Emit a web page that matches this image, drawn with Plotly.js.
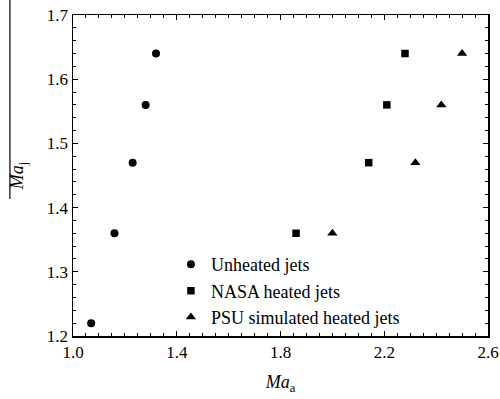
<!DOCTYPE html>
<html>
<head>
<meta charset="utf-8">
<script src="https://cdn.plot.ly/plotly-3.0.1.min.js"></script>
<style>html,body{margin:0;padding:0;background:#fff;}#chart{width:500px;height:399px;}</style>
</head>
<body>
<div id="chart"></div>
<script>
// Data
var seriesNames = ["Unheated jets", "NASA heated jets", "PSU simulated heated jets"];
var unheatedMaA = [1.07, 1.16, 1.23, 1.28, 1.32];
var nasaMaA = [1.86, 2.14, 2.21, 2.28];
var psuMaA = [2.00, 2.32, 2.42, 2.50];
var unheatedMaJ = [1.22, 1.36, 1.47, 1.56, 1.64];
var heatedMaJ = [1.36, 1.47, 1.56, 1.64];
var xTickVals = [1.0, 1.4, 1.8, 2.2, 2.6];
var xTickText = ["1.0", "1.4", "1.8", "2.2", "2.6"];
var yTickVals = [1.2, 1.3, 1.4, 1.5, 1.6, 1.7];
var yTickText = ["1.2", "1.3", "1.4", "1.5", "1.6", "1.7"];

var serif = "Liberation Serif";

var traces = [
  {x: unheatedMaA, y: unheatedMaJ, name: seriesNames[0], type: "scatter", mode: "markers",
   marker: {symbol: "circle", size: 8, color: "#000"}, cliponaxis: false},
  {x: nasaMaA, y: heatedMaJ, name: seriesNames[1], type: "scatter", mode: "markers",
   marker: {symbol: "square", size: 7.5, color: "#000"}, cliponaxis: false},
  {x: psuMaA, y: heatedMaJ, name: seriesNames[2], type: "scatter", mode: "markers",
   marker: {symbol: "triangle-up", size: 9, color: "#000"}, cliponaxis: false}
];

var layout = {
  width: 500, height: 399,
  margin: {l: 73, r: 12, t: 15, b: 63},
  paper_bgcolor: "#fff", plot_bgcolor: "#fff",
  font: {family: serif, size: 17, color: "#000"},
  showlegend: true,
  legend: {x: 0.236, y: 0.28, xanchor: "left", yanchor: "top",
           bgcolor: "rgba(0,0,0,0)", font: {family: serif, size: 18, color: "#000"},
           tracegroupgap: 0},
  xaxis: {
    range: [1.0, 2.6], showgrid: false, zeroline: false,
    showline: true, linecolor: "#000", linewidth: 1.5, mirror: "ticks",
    ticks: "inside", ticklen: 5, tickwidth: 1.2, tickcolor: "#000",
    tickmode: "array", tickvals: xTickVals, ticktext: xTickText,
    minor: {dtick: 0.05, tick0: 1.0, ticks: "inside", ticklen: 3, tickwidth: 1, tickcolor: "#000", showgrid: false},
    tickfont: {family: serif, size: 17},
    title: {text: "<i>Ma</i><sub>a</sub>", font: {family: serif, size: 18}, standoff: 14}
  },
  yaxis: {
    range: [1.2, 1.7], showgrid: false, zeroline: false,
    showline: true, linecolor: "#000", linewidth: 1.5, mirror: "ticks",
    ticks: "inside", ticklen: 5, tickwidth: 1.2, tickcolor: "#000",
    tickmode: "array", tickvals: yTickVals, ticktext: yTickText,
    minor: {dtick: 0.02, tick0: 1.2, ticks: "inside", ticklen: 3, tickwidth: 1, tickcolor: "#000", showgrid: false},
    tickfont: {family: serif, size: 17},
    title: {text: "<i>Ma</i><sub>j</sub>", font: {family: serif, size: 18}, standoff: 18}
  },
  shapes: [
    {type: "line", xref: "paper", yref: "paper", x0: -0.152, x1: -0.152, y0: 1.047, y1: 0.427,
     line: {color: "#000", width: 1.2}}
  ]
};

Plotly.newPlot("chart", traces, layout, {displayModeBar: false, staticPlot: true});
</script>
</body>
</html>
